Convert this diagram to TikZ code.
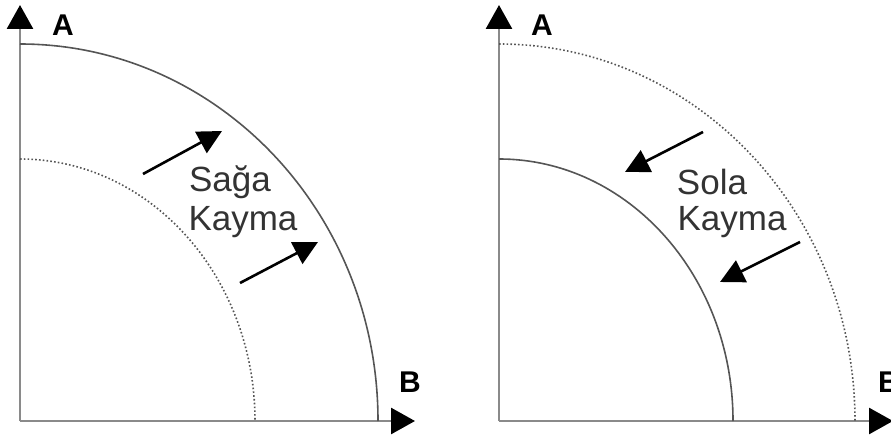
\documentclass[tikz,border=0pt]{standalone}
\usepackage{fontspec}
\setmainfont{Liberation Sans}
\usetikzlibrary{arrows.meta}
\definecolor{axisgray}{HTML}{8A8A8A}
\definecolor{arcgray}{HTML}{555555}
\definecolor{txtgray}{HTML}{333333}
\begin{document}
\begin{tikzpicture}[x=1pt,y=1pt,
  axisline/.style={draw=axisgray,line width=2.8pt,-{Triangle[length=24pt,width=26pt,color=black]}},
  solidarc/.style={draw=arcgray,line width=1.6pt},
  dotarc/.style={draw=arcgray,line width=1.6pt,dash pattern=on 1.6pt off 2.2pt},
  shiftarrow/.style={draw=black,line width=2.6pt,-{Triangle[length=24pt,width=24pt]}},
  lbl/.style={font=\fontsize{30}{34}\selectfont\bfseries,text=black,inner sep=0pt},
  word/.style={font=\fontsize{35}{38}\selectfont,text=txtgray,inner sep=0pt,anchor=base}]
\useasboundingbox (0,0) rectangle (891,437);
\clip (0,0) rectangle (891,437);
% ---------- left panel ----------
\coordinate (Lo) at (20,16);
\coordinate (Ly) at (20,432);
\coordinate (Lx) at (415,16);
\draw[axisline] (Lo) -- (Ly);
\draw[axisline] (Lo) -- (Lx);
\coordinate (Louts) at (20,393);
\coordinate (Lins) at (20,278);
\draw[solidarc] (Louts) arc[start angle=90,end angle=0,x radius=358,y radius=377];
\draw[dotarc] (Lins) arc[start angle=90,end angle=0,x radius=235,y radius=262];
\node[lbl] (LA) at (63,412) {A};
\node[lbl] (LB) at (410,55) {B};
\coordinate (La1s) at (143,263);
\coordinate (La1e) at (222,306);
\coordinate (La2s) at (240,154);
\coordinate (La2e) at (318,195);
\draw[shiftarrow] (La1s) -- (La1e);
\draw[shiftarrow] (La2s) -- (La2e);
\node[word] (Lw1) at (230,245) {Sağa};
\node[word] (Lw2) at (243,207) {Kayma};
% ---------- right panel ----------
\coordinate (Ro) at (499,16);
\coordinate (Ry) at (499,432);
\coordinate (Rx) at (893,16);
\draw[axisline] (Ro) -- (Ry);
\draw[axisline] (Ro) -- (Rx);
\coordinate (Routs) at (499,393);
\coordinate (Rins) at (499,278);
\draw[dotarc] (Routs) arc[start angle=90,end angle=0,x radius=356,y radius=377];
\draw[solidarc] (Rins) arc[start angle=90,end angle=0,x radius=234,y radius=262];
\node[lbl] (RA) at (542,412) {A};
\node[lbl] (RB) at (889,55) {B};
\coordinate (Ra1s) at (703,305);
\coordinate (Ra1e) at (625,265);
\coordinate (Ra2s) at (800,195);
\coordinate (Ra2e) at (720,155);
\draw[shiftarrow] (Ra1s) -- (Ra1e);
\draw[shiftarrow] (Ra2s) -- (Ra2e);
\node[word] (Rw1) at (712,243) {Sola};
\node[word] (Rw2) at (732,207) {Kayma};
\end{tikzpicture}
\end{document}
